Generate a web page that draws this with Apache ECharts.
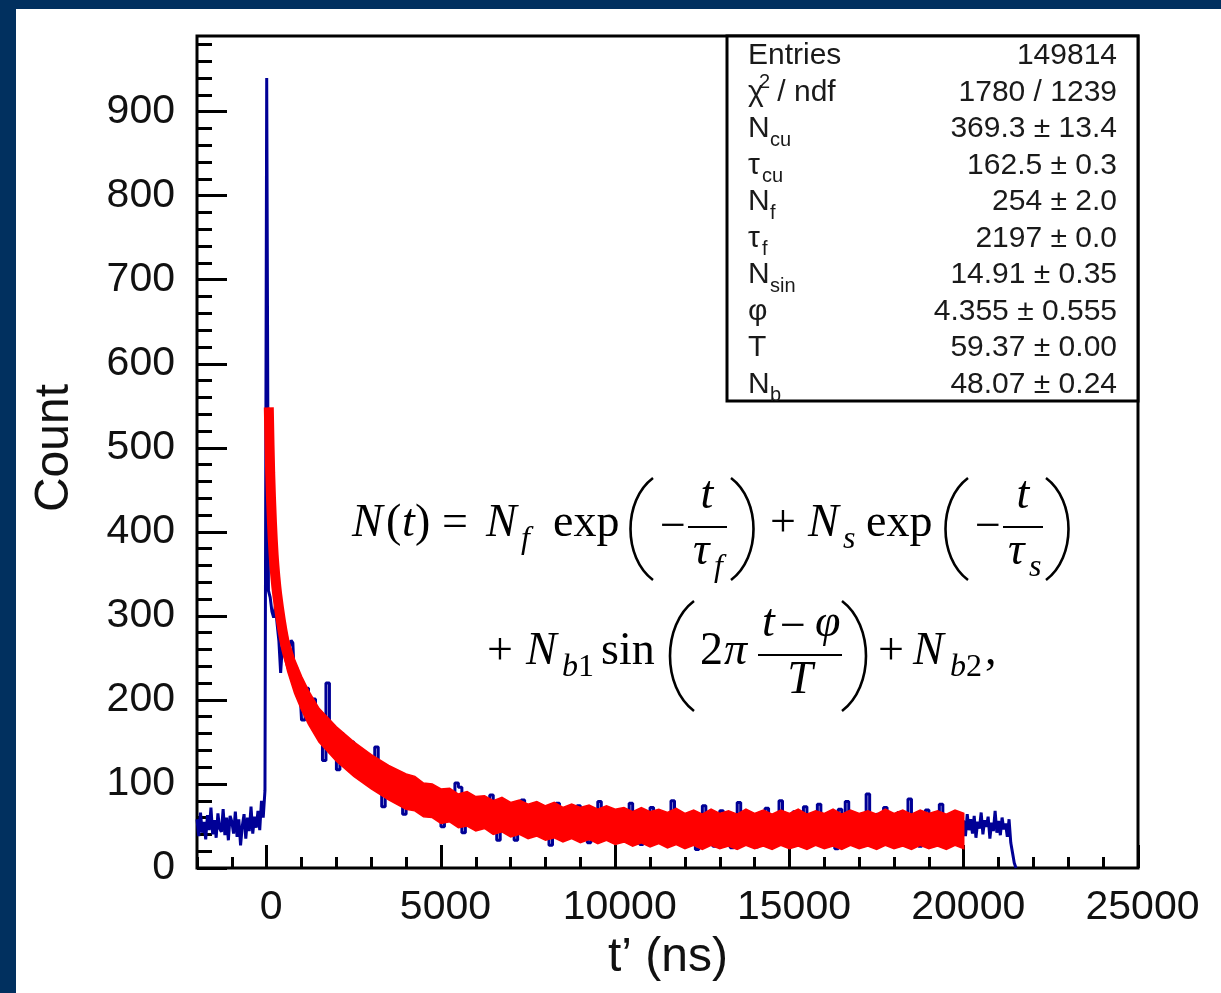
<!DOCTYPE html>
<html>
<head>
<meta charset="utf-8">
<script src="https://cdn.jsdelivr.net/npm/echarts@6/dist/echarts.min.js"></script>
<style>
html,body{margin:0;padding:0;background:#fff;}
#c{width:1221px;height:993px;}
</style>
</head>
<body>
<div id="c"></div>
<script>
// ---------------- data ----------------
const xTickLabels = [0, 5000, 10000, 15000, 20000, 25000];
const yTickLabels = [0, 100, 200, 300, 400, 500, 600, 700, 800, 900];

// blue histogram: fine bins (50 ns) from -2000 to 1000
const fineStart = -2000, fineWidth = 50;
const countsFine = [
  58, 38, 66, 42, 55, 34, 63, 45, 72, 40, 57, 36, 65, 47, 43, 70, 39, 60, 33, 62,
  55, 41, 67, 37, 58, 27, 50, 64, 35, 60, 44, 73, 41, 61, 48, 68, 45, 80, 60, 92,
  940, 330, 322, 305, 298, 312, 290, 270, 232, 265, 283, 258, 244, 262, 271, 268, 220, 240, 232, 215
];
// coarse bins (100 ns) from 1000 to 20000
const coarseStart = 1000, coarseWidth = 100;
const countsCoarse = [
  176, 214, 190, 201, 160, 183, 128, 220, 150, 135,
  117, 160, 140, 124, 150, 112, 135, 108, 129, 122,
  100, 144, 112, 73, 118, 108, 84, 112, 88, 64,
  95, 82, 104, 70, 88, 92, 96, 72, 78, 86,
  49, 80, 68, 90, 101, 96, 42, 58, 84, 70,
  60, 79, 52, 72, 87, 61, 33, 44, 74, 58,
  66, 33, 57, 81, 50, 62, 44, 70, 55, 64,
  49, 27, 60, 77, 47, 58, 40, 66, 52, 74,
  45, 57, 30, 63, 50, 79, 44, 55, 36, 61,
  66, 48, 35, 58, 77, 42, 55, 28, 60, 50,
  72, 45, 56, 31, 64, 52, 80, 40, 58, 46,
  35, 62, 49, 22, 57, 74, 43, 60, 26, 53,
  68, 41, 55, 24, 61, 78, 47, 30, 58, 52,
  25, 63, 45, 71, 38, 56, 49, 80, 33, 60,
  44, 67, 29, 54, 73, 40, 58, 48, 76, 36,
  62, 45, 55, 23, 70, 50, 79, 38, 57, 46,
  30, 60, 88, 52, 35, 64, 47, 72, 28, 55,
  48, 66, 37, 58, 82, 43, 61, 26, 54, 69,
  45, 58, 34, 76, 50, 40, 63, 47, 30, 56
];
// tail bins (50 ns) from 20000 to 21500
const tailStart = 20000, tailWidth = 50;
const countsTail = [
  52, 38, 64, 45, 58, 41, 62, 36, 55, 47, 66, 40, 57, 49, 61,
  35, 54, 44, 68, 42, 56, 39, 60, 46, 53, 37, 58, 30, 18, 6
];
const histEnd = 21500;

// red fit curve centre
const fitT      = [60, 100, 150, 200, 250, 300, 400, 500, 600, 800, 1000, 1200, 1500, 2000, 2500, 3000, 3500, 4000, 4500, 5000, 5500, 6000, 6500, 7000, 8000, 9000, 10000, 11000, 12000, 13000, 14000, 15000, 16000, 17000, 18000, 19000, 20000];
const fitCenter = [548, 470, 412, 372, 346, 326, 296, 272, 254, 228, 208, 191, 170, 147, 129, 114, 101, 91, 82, 75, 69, 65, 61, 58.5, 54.5, 52, 50.5, 49.8, 47.5, 46, 45, 45, 45, 45, 45, 45, 45];
// red oscillation band edges
const bandT = [60, 100, 150, 200, 250, 300, 400, 500, 600, 800, 1000, 1200, 1500, 2000, 2500, 3000, 3500,
  4000, 4250, 4500, 4750, 5000, 5250, 5500, 5750, 6000, 6250, 6500, 6750, 7000, 7250, 7500, 7750,
  8000, 8250, 8500, 8750, 9000, 9250, 9500, 9750, 10000, 10250, 10500, 10750, 11000, 11250, 11500, 11750,
  12000, 12250, 12500, 12750, 13000, 13250, 13500, 13750, 14000, 14250, 14500, 14750, 15000, 15250, 15500, 15750,
  16000, 16250, 16500, 16750, 17000, 17250, 17500, 17750, 18000, 18250, 18500, 18750, 19000, 19250, 19500, 19750, 20000];
const bandLow = [548, 452, 395, 354, 327, 307, 276, 252, 234, 208, 188, 171, 150, 127, 109, 94, 81,
  70, 68, 61, 60, 53, 55, 48, 50, 44, 47, 40, 43, 37, 40, 35, 38,
  33, 36, 31, 35, 30, 34, 29, 33, 28, 31, 26, 30, 25, 29, 24, 28,
  23, 27, 22, 27, 23, 26, 22, 27, 23, 26, 22, 27, 23, 26, 22, 27,
  23, 26, 22, 27, 23, 26, 22, 27, 23, 26, 22, 27, 23, 26, 22, 27, 23];
const bandHigh = [548, 488, 430, 390, 365, 345, 316, 292, 274, 248, 228, 211, 190, 168, 150, 135, 122,
  112, 109, 101, 100, 94, 95, 88, 91, 85, 86, 80, 84, 78, 81, 76, 79,
  74, 78, 72, 76, 72, 75, 70, 74, 70, 72, 67, 72, 67, 70, 66, 71,
  65, 69, 64, 70, 65, 68, 64, 70, 65, 69, 64, 69, 65, 70, 64, 68,
  65, 70, 64, 69, 65, 68, 64, 70, 65, 69, 64, 69, 65, 68, 64, 69, 65];

// stats box
const statNames  = ['Entries', 'χ', 'N', 'τ', 'N', 'τ', 'N', 'φ', 'T', 'N'];
const statSubs   = ['', '', 'cu', 'cu', 'f', 'f', 'sin', '', '', 'b'];
const statSups   = ['', '2', '', '', '', '', '', '', '', ''];
const statTails  = ['', ' / ndf', '', '', '', '', '', '', '', ''];
const statValues = ['149814', '1780 / 1239', '369.3 ± 13.4', '162.5 ± 0.3', '254 ± 2.0', '2197 ± 0.0', '14.91 ± 0.35', '4.355 ± 0.555', '59.37 ± 0.00', '48.07 ± 0.24'];

const xTitle = 't’ (ns)';
const yTitle = 'Count';

// ---------------- build ----------------
const histPts = [];
countsFine.forEach((c, i) => histPts.push([fineStart + i * fineWidth, c]));
countsCoarse.forEach((c, i) => histPts.push([coarseStart + i * coarseWidth, c]));
countsTail.forEach((c, i) => histPts.push([tailStart + i * tailWidth, c]));
histPts.push([histEnd, 0]);

const xMinor = []; for (let v = -2000; v <= 25000; v += 1000) xMinor.push(v);
const yMinor = []; for (let v = 0; v <= 980; v += 20) yMinor.push(v);

const SANS = '"Liberation Sans", Arial, Helvetica, sans-serif';
const SERIF = '"Liberation Serif", "Times New Roman", Times, serif';

function txt(x, yBase, s, size, o) {
  o = o || {};
  const fam = o.serif ? SERIF : SANS;
  const align = o.align || 'left';
  return {
    type: 'text', x: x, y: yBase - 0.34 * size, silent: true, z: 100,
    style: {
      text: s, font: (o.italic ? 'italic ' : '') + size + 'px ' + fam, fill: o.color || '#000',
      align: align, verticalAlign: 'middle', textAlign: align, textVerticalAlign: 'middle'
    }
  };
}
function hline(x1, x2, y, w) {
  return {type: 'line', silent: true, z: 100, shape: {x1: x1, y1: y, x2: x2, y2: y}, style: {stroke: '#000', lineWidth: w || 2}};
}
function paren(xe, yt, yb, depth) {
  const cx = xe - depth;
  const h = yb - yt;
  return {type: 'bezierCurve', silent: true, z: 100,
    shape: {x1: xe, y1: yt, x2: xe, y2: yb, cpx1: cx, cpy1: yt + 0.22 * h, cpx2: cx, cpy2: yb - 0.22 * h},
    style: {stroke: '#000', lineWidth: 2.6, fill: null}};
}

const graphics = [];
graphics.push({type: 'rect', silent: true, z: 0, shape: {x: 0, y: 0, width: 1221, height: 9}, style: {fill: '#01305f'}});
graphics.push({type: 'rect', silent: true, z: 0, shape: {x: 0, y: 0, width: 16, height: 993}, style: {fill: '#01305f'}});

graphics.push({type: 'rect', silent: true, z: 90, shape: {x: 727, y: 36, width: 411, height: 365}, style: {fill: '#fff', stroke: '#000', lineWidth: 3}});
const SF = '#1a1a1a';
statNames.forEach((nm, i) => {
  const yb = 66 + 36.5 * i;
  graphics.push(txt(748, yb, nm, 30, {color: SF}));
  const w = nm === 'N' ? 22 : (nm === 'τ' ? 14 : (nm === 'χ' ? 11 : 0));
  if (statSubs[i]) graphics.push(txt(748 + w, yb + 8, statSubs[i], 20, {color: SF}));
  if (statSups[i]) graphics.push(txt(748 + w, yb - 13, statSups[i], 20, {color: SF}));
  if (statTails[i]) graphics.push(txt(748 + w + 10, yb, statTails[i], 30, {color: SF}));
  graphics.push(txt(1117, yb, statValues[i], 30, {color: SF, align: 'right'}));
});

graphics.push({type: 'text', x: 55, y: 448, rotation: Math.PI / 2, silent: true, z: 100,
  style: {text: yTitle, font: '48px ' + SANS, fill: '#111', align: 'center', verticalAlign: 'middle', textAlign: 'center', textVerticalAlign: 'middle'}});
graphics.push({type: 'text', x: 668, y: 958, silent: true, z: 100,
  style: {text: xTitle, font: '48px ' + SANS, fill: '#111', align: 'center', verticalAlign: 'middle', textAlign: 'center', textVerticalAlign: 'middle'}});

// formula
const FS = 46, SUB = 32;
const I = {serif: true, italic: true}, R = {serif: true};
graphics.push(txt(352, 540, 'N', FS, I));
graphics.push(txt(386, 540, '(', FS, R));
graphics.push(txt(402, 540, 't', FS, I));
graphics.push(txt(415, 540, ')', FS, R));
graphics.push(txt(442, 540, '=', FS, R));
graphics.push(txt(486, 540, 'N', FS, I));
graphics.push(txt(521, 550, 'f', SUB, I));
graphics.push(txt(553, 540, 'exp', FS, R));
graphics.push(paren(653, 478, 580, 30));
graphics.push(txt(660, 544, '−', FS, R));
graphics.push(txt(707, 512, 't', FS, {serif: true, italic: true, align: 'center'}));
graphics.push(hline(688, 727, 527, 2));
graphics.push(txt(693, 568, 'τ', FS, I));
graphics.push(txt(714, 578, 'f', SUB, I));
graphics.push(paren(731, 478, 580, -30));
graphics.push(txt(770, 540, '+', FS, R));
graphics.push(txt(808, 540, 'N', FS, I));
graphics.push(txt(843, 550, 's', SUB, I));
graphics.push(txt(866, 540, 'exp', FS, R));
graphics.push(paren(968, 478, 580, 30));
graphics.push(txt(975, 544, '−', FS, R));
graphics.push(txt(1023, 512, 't', FS, {serif: true, italic: true, align: 'center'}));
graphics.push(hline(1003, 1043, 527, 2));
graphics.push(txt(1008, 568, 'τ', FS, I));
graphics.push(txt(1029, 578, 's', SUB, I));
graphics.push(paren(1046, 478, 580, -30));
graphics.push(txt(487, 668, '+', FS, R));
graphics.push(txt(526, 668, 'N', FS, I));
graphics.push(txt(562, 678, 'b', SUB, I));
graphics.push(txt(578, 678, '1', SUB, R));
graphics.push(txt(601, 668, 'sin', FS, R));
graphics.push(paren(694, 601, 711, 32));
graphics.push(txt(700, 668, '2', FS, R));
graphics.push(txt(724, 668, 'π', FS, I));
graphics.push(txt(762, 640, 't', FS, I));
graphics.push(txt(780, 644, '−', FS, R));
graphics.push(txt(815, 640, 'φ', FS, I));
graphics.push(hline(758, 842, 655, 2));
graphics.push(txt(800, 697, 'T', FS, {serif: true, italic: true, align: 'center'}));
graphics.push(paren(842, 601, 711, -32));
graphics.push(txt(878, 668, '+', FS, R));
graphics.push(txt(913, 668, 'N', FS, I));
graphics.push(txt(950, 678, 'b', SUB, I));
graphics.push(txt(966, 678, '2', SUB, R));
graphics.push(txt(985, 668, ',', FS, R));

const chart = echarts.init(document.getElementById('c'), null, {renderer: 'canvas', width: 1221, height: 993});
const tickStyle = {color: '#000', width: 3};
const labelStyle = {fontSize: 41, fontFamily: SANS, color: '#111', formatter: v => String(v)};

chart.setOption({
  animation: false,
  backgroundColor: '#fff',
  grid: {left: 197, top: 36, right: 83, bottom: 125, show: true, borderColor: '#000', borderWidth: 3, backgroundColor: 'rgba(0,0,0,0)', containLabel: false, outerBoundsMode: 'none'},
  xAxis: [
    {type: 'value', min: -2000, max: 25000, position: 'bottom', axisLine: {show: false, onZero: false}, splitLine: {show: false},
     axisTick: {show: true, inside: true, length: 23, lineStyle: tickStyle, customValues: xTickLabels},
     axisLabel: Object.assign({show: true, customValues: xTickLabels, margin: 19, padding: [0, 0, 0, 9]}, labelStyle)},
    {type: 'value', min: -2000, max: 25000, position: 'bottom', axisLine: {show: false, onZero: false}, splitLine: {show: false},
     axisTick: {show: true, inside: true, length: 11, lineStyle: tickStyle, customValues: xMinor},
     axisLabel: {show: false}}
  ],
  yAxis: [
    {type: 'value', min: 0, max: 990, position: 'left', axisLine: {show: false, onZero: false}, splitLine: {show: false},
     axisTick: {show: true, inside: true, length: 30, lineStyle: tickStyle, customValues: yTickLabels},
     axisLabel: Object.assign({show: true, customValues: yTickLabels, margin: 22}, labelStyle)},
    {type: 'value', min: 0, max: 990, position: 'left', axisLine: {show: false, onZero: false}, splitLine: {show: false},
     axisTick: {show: true, inside: true, length: 15, lineStyle: tickStyle, customValues: yMinor},
     axisLabel: {show: false}}
  ],
  series: [
    {type: 'line', name: 'data', xAxisIndex: 0, yAxisIndex: 0, data: histPts, step: 'end', symbol: 'none', silent: true,
     lineStyle: {color: '#000096', width: 3}, itemStyle: {color: '#000096'}, emphasis: {disabled: true}, z: 2},
    {type: 'custom', name: 'band', xAxisIndex: 0, yAxisIndex: 0, data: [[bandT[0], bandHigh[0]]], silent: true, z: 3,
     renderItem: function (params, api) {
       const pts = [];
       for (let i = 0; i < bandT.length; i++) pts.push(api.coord([bandT[i], bandHigh[i]]));
       for (let i = bandT.length - 1; i >= 0; i--) pts.push(api.coord([bandT[i], bandLow[i]]));
       return {type: 'polygon', shape: {points: pts}, style: {fill: '#ff0000', stroke: '#ff0000', lineWidth: 1.5}};
     }},
    {type: 'line', name: 'fit', xAxisIndex: 0, yAxisIndex: 0, data: fitT.map((t, i) => [t, fitCenter[i]]),
     symbol: 'none', silent: true, smooth: 0.3, lineStyle: {color: '#ff0000', width: 10}, emphasis: {disabled: true}, z: 4}
  ],
  graphic: {elements: graphics}
});
</script>
</body>
</html>
